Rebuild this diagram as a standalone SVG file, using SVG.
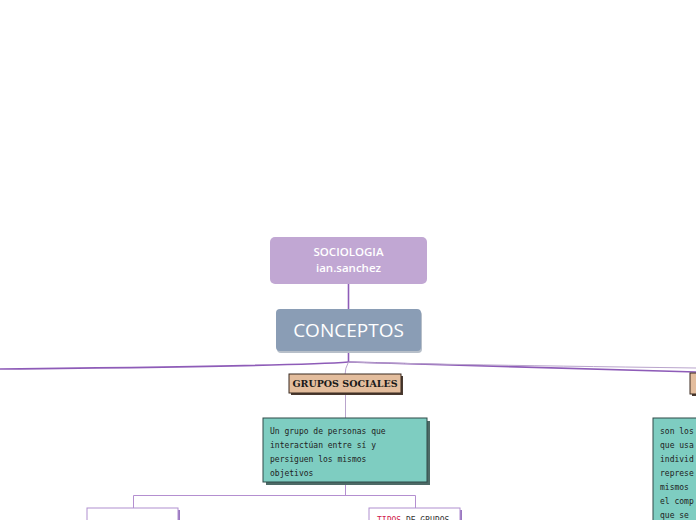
<svg xmlns="http://www.w3.org/2000/svg" width="696" height="520" viewBox="0 0 696 520">
<style>
.main{fill:none;stroke:#8e5cb8;stroke-width:1.6}
.thin{fill:none;stroke:#b9a4cc;stroke-width:1}
.sub{fill:none;stroke:#b48fd0;stroke-width:1}
.hdr{fill:#fff;font-family:"Open Sans","Liberation Sans",sans-serif;font-weight:600;text-anchor:middle}
.big{font-weight:normal;font-size:19px}
.tan{fill:#e3bd9d;stroke:#3a2a20;stroke-width:1}
.tanshadow{fill:#4a3a30}
.teal{fill:#7ecdc1;stroke:#2f4a48;stroke-width:1}
.tealshadow{fill:#4d6a66}
.mono{font-family:"DejaVu Sans Mono","Liberation Mono",monospace;font-size:8px;fill:#222}
.ser{font-family:"DejaVu Serif","Liberation Serif",serif;font-weight:bold;font-size:9.5px;fill:#1a1a1a;text-anchor:middle}
.wbox{fill:#fff;stroke:#b08fd0;stroke-width:1}
.wshadow{fill:#9a78c0}
</style>
<g id="connectors">
<line class="main" x1="348.5" y1="284" x2="348.5" y2="310"/>
<line class="main" x1="348.5" y1="352" x2="348.5" y2="362"/>
<path class="main" d="M348.5 362 Q300 366 0 369"/>
<path class="main" d="M348.5 362 Q400 364 696 372"/>
<path class="thin" d="M348.5 362 Q400 364 696 368"/>
<path class="thin" d="M348.5 362 Q345 368 345 375"/>
<line class="thin" x1="345.5" y1="393" x2="345.5" y2="418"/>
<line class="sub" x1="345.5" y1="482" x2="345.5" y2="495"/>
<polyline class="sub" points="133.5,508 133.5,495.5 415.5,495.5 415.5,508"/>
</g>
<g id="sociologia">
<rect x="270" y="237" width="157" height="47" rx="5" fill="#c1a7d3"/>
<text class="hdr" x="348.5" y="256" font-size="11.5">SOCIOLOGIA</text>
<text class="hdr" x="348.5" y="272" font-size="11.5">ian.sanchez</text>
</g>
<g id="conceptos">
<rect x="277" y="311" width="145" height="42" rx="4" fill="#b7bfc9"/>
<rect x="276" y="309" width="145" height="42" rx="4" fill="#8a9db5"/>
<text class="hdr big" x="348.5" y="337">CONCEPTOS</text>
</g>
<g id="grupos-sociales">
<rect class="tanshadow" x="291" y="376" width="112" height="19"/>
<rect class="tan" x="289" y="374" width="112" height="19"/>
<text class="ser" x="345" y="387">GRUPOS SOCIALES</text>
</g>
<g id="definicion">
<rect class="tealshadow" x="266" y="421" width="164" height="64"/>
<rect class="teal" x="263" y="418" width="164" height="64"/>
<text class="mono" x="270" y="434">Un grupo de personas que</text>
<text class="mono" x="270" y="448">interactúan entre sí y</text>
<text class="mono" x="270" y="462">persiguen los mismos</text>
<text class="mono" x="270" y="476">objetivos</text>
</g>
<g id="grupo-izq">
<rect class="wshadow" x="89" y="510" width="91" height="20"/>
<rect class="wbox" x="87" y="508" width="91" height="20"/>
</g>
<g id="tipos-grupos">
<rect class="wshadow" x="371" y="510" width="91" height="20"/>
<rect class="wbox" x="369" y="508" width="91" height="20"/>
<text x="377" y="523" font-family="DejaVu Sans Mono,monospace" font-size="8px"><tspan fill="#d0204a">TIPOS</tspan><tspan fill="#333"> DE GRUPOS</tspan></text>
</g>
<g id="nodo-derecho">
<rect class="tanshadow" x="692" y="375" width="10" height="21"/>
<rect class="tan" x="690" y="373" width="10" height="21"/>
</g>
<g id="definicion-derecha">
<rect class="teal" x="653" y="418" width="60" height="110"/>
<text class="mono" x="660" y="434">son los</text>
<text class="mono" x="660" y="448">que usa</text>
<text class="mono" x="660" y="462">individ</text>
<text class="mono" x="660" y="476">represe</text>
<text class="mono" x="660" y="490">mismos</text>
<text class="mono" x="660" y="504">el comp</text>
<text class="mono" x="660" y="518">que se</text>
</g>
</svg>
